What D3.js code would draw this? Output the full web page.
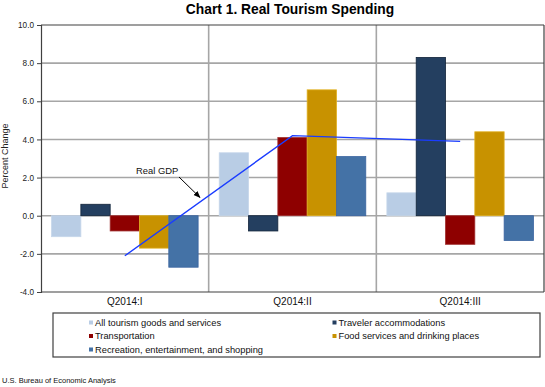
<!DOCTYPE html>
<html>
<head>
<meta charset="utf-8">
<script src="https://cdn.jsdelivr.net/npm/d3@7"></script>
<style>
  body { margin: 0; background: #fff; }
  svg { font-family: "Liberation Sans", Arial, sans-serif; }
</style>
</head>
<body>
<svg id="chart" width="545" height="387"></svg>
<script>
// data
var quarters = ["Q2014:I", "Q2014:II", "Q2014:III"];
var seriesNames = [
  "All tourism goods and services",
  "Traveler accommodations",
  "Transportation",
  "Food services and drinking places",
  "Recreation, entertainment, and shopping"
];
var allTourism = [-1.1, 3.3, 1.2];
var accommodations = [0.6, -0.8, 8.3];
var transportation = [-0.8, 4.1, -1.5];
var foodServices = [-1.7, 6.6, 4.4];
var recreation = [-2.7, 3.1, -1.3];
var realGDP = [-2.1, 4.2, 3.9];
var yTicks = [-4, -2, 0, 2, 4, 6, 8, 10];

var colors = ["#b9cde5", "#243f60", "#8e0000", "#c89200", "#4472a6"];
var strokes = ["#c6d6ea", "#12243a", "#a03030", "#e0b020", "#3a64a0"];
var seriesValues = [allTourism, accommodations, transportation, foodServices, recreation];

var svg = d3.select("#chart");
// note: "top" is taken by window.top, so plot edges get their own names
var plotL = 41, plotR = 544, plotT = 25, plotB = 292;

var x0 = d3.scaleBand().domain(quarters).range([plotL, plotR]).paddingInner(0).paddingOuter(0);
var x1 = d3.scaleBand().domain(d3.range(seriesNames.length))
  .range([0, x0.bandwidth()]).paddingInner(0).paddingOuter(0.36);
var y = d3.scaleLinear().domain([-4, 10]).range([plotB, plotT]);

// title
svg.append("text")
  .attr("x", 290).attr("y", 14)
  .attr("text-anchor", "middle")
  .style("font-size", "13.8px").style("font-weight", "bold")
  .text("Chart 1. Real Tourism Spending");

// horizontal grid
svg.append("g").selectAll("line")
  .data(yTicks.filter(function(d){ return d > -4 && d < 10; }))
  .enter().append("line")
  .attr("x1", plotL).attr("x2", plotR)
  .attr("y1", function(d){ return y(d); }).attr("y2", function(d){ return y(d); })
  .attr("stroke", "#a6a6a6").attr("stroke-width", 1.6);

// vertical category dividers
svg.append("g").selectAll("line")
  .data(quarters.slice(1))
  .enter().append("line")
  .attr("x1", function(d){ return x0(d); }).attr("x2", function(d){ return x0(d); })
  .attr("y1", plotT).attr("y2", plotB)
  .attr("stroke", "#a6a6a6").attr("stroke-width", 1.6);

// bars
var groups = svg.append("g").selectAll("g")
  .data(quarters).enter().append("g")
  .attr("transform", function(d){ return "translate(" + x0(d) + ",0)"; });

groups.selectAll("rect")
  .data(function(q, qi){ return seriesValues.map(function(s, si){ return {s: si, v: s[qi]}; }); })
  .enter().append("rect")
  .attr("x", function(d){ return x1(d.s); })
  .attr("width", x1.bandwidth())
  .attr("y", function(d){ return y(Math.max(0, d.v)); })
  .attr("height", function(d){ return Math.abs(y(d.v) - y(0)); })
  .attr("fill", function(d){ return colors[d.s]; })
  .attr("stroke", function(d){ return strokes[d.s]; })
  .attr("stroke-width", 0.8);

// plot frame
svg.append("line").attr("x1", plotL).attr("x2", plotR).attr("y1", plotT).attr("y2", plotT)
  .attr("stroke", "#404040").attr("stroke-width", 1.2);
svg.append("line").attr("x1", plotR).attr("x2", plotR).attr("y1", plotT).attr("y2", plotB)
  .attr("stroke", "#404040").attr("stroke-width", 1.2);
svg.append("line").attr("x1", plotL).attr("x2", plotR).attr("y1", plotB).attr("y2", plotB)
  .attr("stroke", "#404040").attr("stroke-width", 1.2);

// y axis
var yAxis = svg.append("g")
  .attr("transform", "translate(" + plotL + ",0)")
  .call(d3.axisLeft(y).tickValues(yTicks).tickSize(4).tickPadding(3)
    .tickFormat(function(d){ return d3.format(".1f")(d).replace("\u2212", "-"); }));
yAxis.select(".domain").attr("stroke", "#404040").attr("stroke-width", 1.2);
yAxis.selectAll(".tick line").attr("stroke", "#404040");
yAxis.selectAll("text").style("font-size", "8.2px").attr("fill", "#222");

svg.append("text")
  .attr("transform", "translate(8,156) rotate(-90)")
  .attr("text-anchor", "middle")
  .style("font-size", "9px").attr("fill", "#222")
  .text("Percent Change");

// category labels
svg.append("g").selectAll("text")
  .data(quarters).enter().append("text")
  .attr("x", function(d){ return x0(d) + x0.bandwidth() / 2; })
  .attr("y", 305)
  .attr("text-anchor", "middle")
  .style("font-size", "10px").attr("fill", "#111")
  .text(function(d){ return d; });

// GDP line
var line = d3.line()
  .x(function(d, i){ return x0(quarters[i]) + x0.bandwidth() / 2; })
  .y(function(d){ return y(d); });
svg.append("path")
  .datum(realGDP)
  .attr("d", line)
  .attr("fill", "none")
  .attr("stroke", "#1a3cff")
  .attr("stroke-width", 1.4);

// annotation
svg.append("defs").append("marker")
  .attr("id", "arrow").attr("viewBox", "0 0 10 10")
  .attr("refX", 9).attr("refY", 5)
  .attr("markerWidth", 7).attr("markerHeight", 7)
  .attr("orient", "auto")
  .append("path").attr("d", "M0,1 L10,5 L0,9 z").attr("fill", "#000");
svg.append("text")
  .attr("x", 136).attr("y", 174)
  .style("font-size", "9.4px").attr("fill", "#111")
  .text("Real GDP");
svg.append("line")
  .attr("x1", 179).attr("y1", 177).attr("x2", 200).attr("y2", 197.5)
  .attr("stroke", "#000").attr("stroke-width", 1)
  .attr("marker-end", "url(#arrow)");

// legend
svg.append("rect")
  .attr("x", 53).attr("y", 313).attr("width", 487).attr("height", 44)
  .attr("fill", "none").attr("stroke", "#404040").attr("stroke-width", 1.2);
var legend = svg.append("g").selectAll("g")
  .data(seriesNames).enter().append("g")
  .attr("transform", function(d, i){
    var col = i < 4 ? i % 2 : 0;
    var row = Math.floor(i / 2);
    return "translate(" + (col ? 332.5 : 89) + "," + (325.5 + row * 13.5) + ")";
  });
legend.append("rect")
  .attr("x", 0).attr("y", -5).attr("width", 4).attr("height", 4)
  .attr("fill", function(d, i){ return colors[i]; });
legend.append("text")
  .attr("x", 6).attr("y", 0)
  .style("font-size", "9.3px").attr("fill", "#111")
  .text(function(d){ return d; });

// source
svg.append("text")
  .attr("x", 2).attr("y", 383)
  .style("font-size", "7.5px").attr("fill", "#111")
  .text("U.S. Bureau of Economic Analysis");
</script>
</body>
</html>
